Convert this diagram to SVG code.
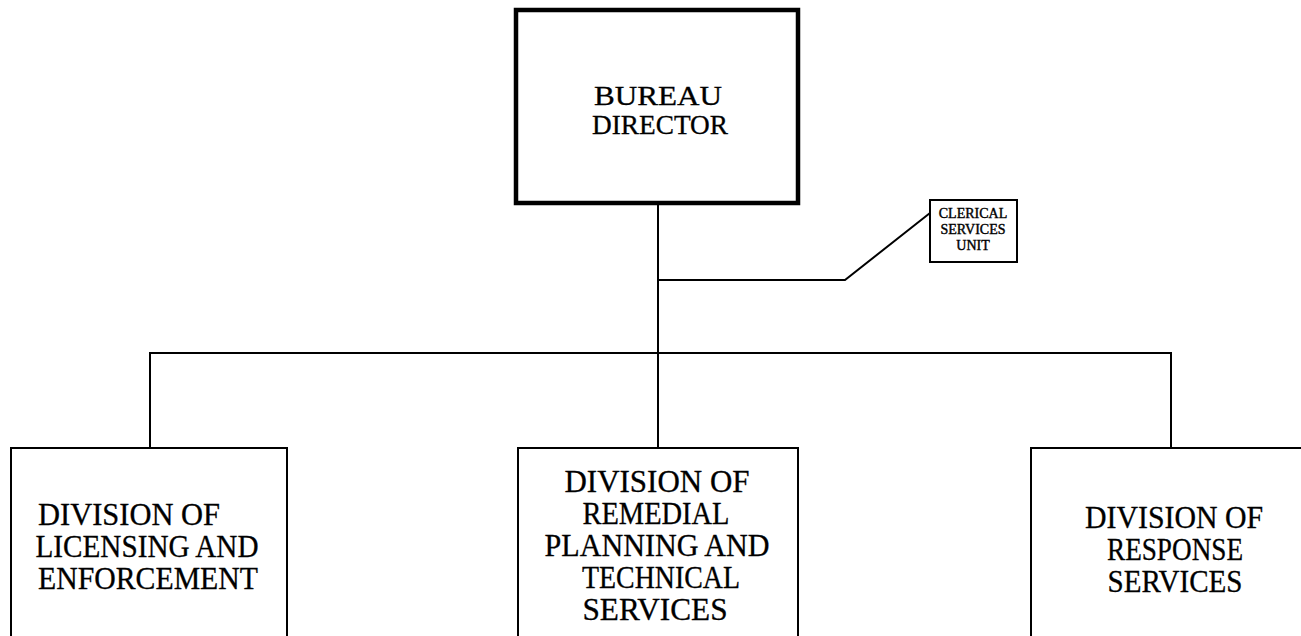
<svg xmlns="http://www.w3.org/2000/svg" width="1301" height="636" viewBox="0 0 1301 636">
<style>
.box{fill:#fff;stroke:#000;stroke-width:2}
.thick{fill:#fff;stroke:#000;stroke-width:4.5}
.line{fill:none;stroke:#000;stroke-width:2}
text{font-family:"Liberation Serif","Times New Roman",serif;fill:#000;text-anchor:middle;stroke:#000;stroke-width:0.3}
.big{font-size:31px}
.mid{font-size:28px}
.small{font-size:14px;stroke-width:0.4}
</style>
<rect width="1301" height="636" fill="#fff"/>
<g id="connectors">
<line class="line" x1="658" y1="203" x2="658" y2="448"/>
<polyline class="line" points="150,448 150,353 1171,353 1171,448"/>
<polyline class="line" points="658,280 845,280 930,213"/>
</g>
<g id="bureau-director">
<rect class="thick" x="516" y="10" width="282" height="193"/>
<text class="mid" x="658" y="105" textLength="128" lengthAdjust="spacingAndGlyphs">BUREAU</text>
<text class="mid" x="660" y="134" textLength="136" lengthAdjust="spacingAndGlyphs">DIRECTOR</text>
</g>
<g id="clerical-services-unit">
<rect class="box" x="930" y="200" width="87" height="62"/>
<text class="small" x="973" y="218">CLERICAL</text>
<text class="small" x="973" y="234">SERVICES</text>
<text class="small" x="973" y="250">UNIT</text>
</g>
<g id="division-licensing">
<path class="box" d="M11,640 V448 H287 V640"/>
<text class="big" x="129" y="525" textLength="182" lengthAdjust="spacingAndGlyphs">DIVISION OF</text>
<text class="big" x="147" y="557" textLength="223" lengthAdjust="spacingAndGlyphs">LICENSING AND</text>
<text class="big" x="148" y="589" textLength="220" lengthAdjust="spacingAndGlyphs">ENFORCEMENT</text>
</g>
<g id="division-remedial">
<path class="box" d="M518,640 V448 H798 V640"/>
<text class="big" x="657" y="492" textLength="185" lengthAdjust="spacingAndGlyphs">DIVISION OF</text>
<text class="big" x="656" y="524" textLength="147" lengthAdjust="spacingAndGlyphs">REMEDIAL</text>
<text class="big" x="657" y="556" textLength="225" lengthAdjust="spacingAndGlyphs">PLANNING AND</text>
<text class="big" x="661" y="588" textLength="158" lengthAdjust="spacingAndGlyphs">TECHNICAL</text>
<text class="big" x="655" y="620" textLength="145" lengthAdjust="spacingAndGlyphs">SERVICES</text>
</g>
<g id="division-response">
<path class="box" d="M1031,640 V448 H1305"/>
<text class="big" x="1174" y="528" textLength="178" lengthAdjust="spacingAndGlyphs">DIVISION OF</text>
<text class="big" x="1175" y="560" textLength="136" lengthAdjust="spacingAndGlyphs">RESPONSE</text>
<text class="big" x="1175" y="592" textLength="135" lengthAdjust="spacingAndGlyphs">SERVICES</text>
</g>
</svg>
